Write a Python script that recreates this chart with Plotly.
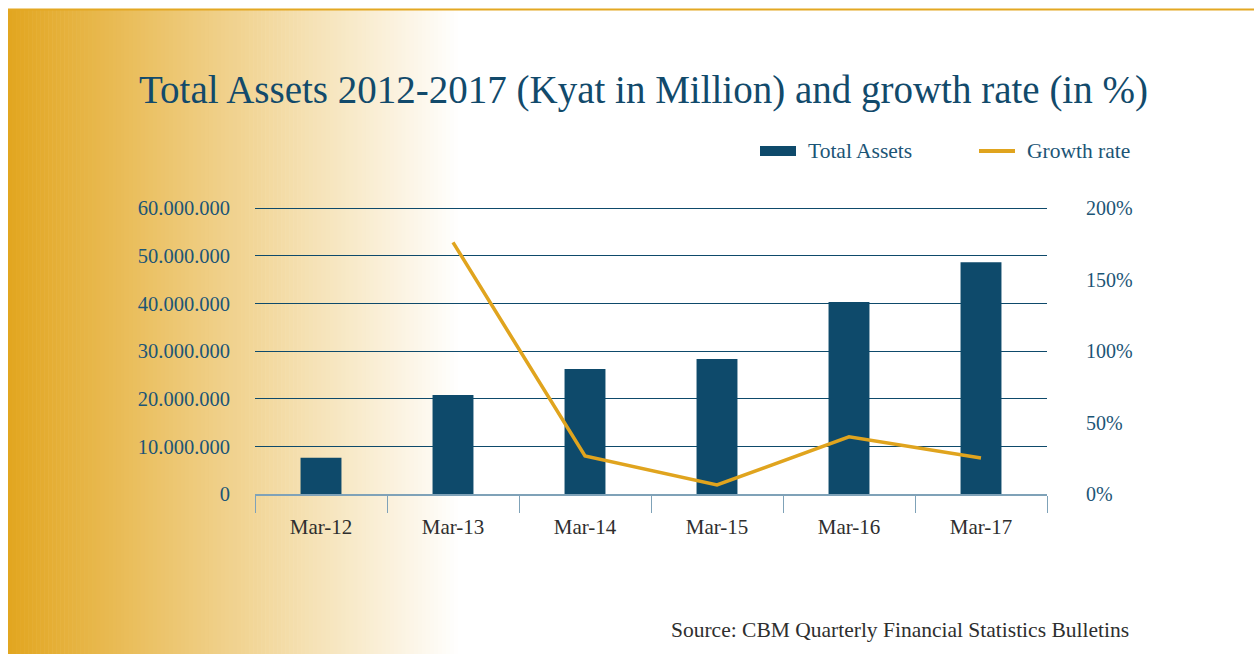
import plotly.graph_objects as go

# Data (Kyat in Million, growth as fraction)
periods = ["Mar-12", "Mar-13", "Mar-14", "Mar-15", "Mar-16", "Mar-17"]
total_assets = [7600000, 20750000, 26200000, 28300000, 40300000, 48600000]
growth_rate = [None, 1.76, 0.266, 0.063, 0.40, 0.252]

left_ticks = [0, 10000000, 20000000, 30000000, 40000000, 50000000, 60000000]
left_tick_text = ["0", "10.000.000", "20.000.000", "30.000.000", "40.000.000", "50.000.000", "60.000.000"]
right_ticks = [0, 0.5, 1.0, 1.5, 2.0]
right_tick_text = ["0%", "50%", "100%", "150%", "200%"]

NAVY = "#0E4A6B"
GOLD = "#E0A41E"
LABEL = "#1C5576"
FONT = "Liberation Serif"

W, H = 1254, 654
# Plot area in pixels
PL, PR, PT, PB = 255, 1047, 206, 494
# Value at the top gridline sits slightly below the plot-area edge so it is drawn
TOP_PX = 208
scale = (PB - PT) / (PB - TOP_PX)

fig = go.Figure()
fig.add_trace(go.Bar(x=periods, y=total_assets, name="Total Assets",
                     marker=dict(color=NAVY, line=dict(width=0)), yaxis="y"))
fig.add_trace(go.Scatter(x=periods, y=growth_rate, name="Growth rate", mode="lines",
                         line=dict(color=GOLD, width=3.5), yaxis="y2",
                         connectgaps=False))


def px_x(x):
    return (x - PL) / (PR - PL)


def px_y(y):
    return (PB - y) / (PB - PT)


shapes = []
# Left-side gold-to-white background gradient built from thin vertical strips
x0, x1 = 8, 462
n = 113
c0 = (226, 166, 32)
for i in range(n):
    t = i / (n - 1)
    r = round(c0[0] + (255 - c0[0]) * t)
    g = round(c0[1] + (255 - c0[1]) * t)
    b = round(c0[2] + (255 - c0[2]) * t)
    sx0 = x0 + (x1 - x0) * i / n
    sx1 = x0 + (x1 - x0) * (i + 1) / n + 0.6
    shapes.append(dict(type="rect", xref="paper", yref="paper",
                       x0=px_x(sx0), x1=px_x(sx1), y0=px_y(654), y1=px_y(10),
                       fillcolor=f"rgb({r},{g},{b})", line=dict(width=0), layer="below"))

# Gold rule along the top edge
shapes.append(dict(type="line", xref="paper", yref="paper",
                   x0=px_x(8), x1=px_x(1254), y0=px_y(9.5), y1=px_y(9.5),
                   line=dict(color="#E3A823", width=2), layer="above"))

# Legend swatches
shapes.append(dict(type="rect", xref="paper", yref="paper",
                   x0=px_x(760), x1=px_x(796), y0=px_y(156), y1=px_y(146),
                   fillcolor=NAVY, line=dict(width=0)))
shapes.append(dict(type="line", xref="paper", yref="paper",
                   x0=px_x(979), x1=px_x(1015), y0=px_y(151), y1=px_y(151),
                   line=dict(color=GOLD, width=4)))

annotations = [
    dict(text="Total Assets 2012-2017 (Kyat in Million) and growth rate (in %)",
         xref="paper", yref="paper", x=px_x(137), y=px_y(90), xanchor="left", yanchor="middle",
         showarrow=False, font=dict(family=FONT, size=39, color="#124A6B")),
    dict(text="Total Assets", xref="paper", yref="paper", x=px_x(806), y=px_y(151),
         xanchor="left", yanchor="middle", showarrow=False,
         font=dict(family=FONT, size=21.5, color=LABEL)),
    dict(text="Growth rate", xref="paper", yref="paper", x=px_x(1025), y=px_y(151),
         xanchor="left", yanchor="middle", showarrow=False,
         font=dict(family=FONT, size=21.5, color=LABEL)),
    dict(text="Source: CBM Quarterly Financial Statistics Bulletins", xref="paper", yref="paper",
         x=px_x(1131), y=px_y(630), xanchor="right", yanchor="middle", showarrow=False,
         font=dict(family=FONT, size=21.5, color="#2E2E2E")),
]

fig.update_layout(
    width=W, height=H,
    margin=dict(l=PL, r=W - PR, t=PT, b=H - PB, pad=0),
    paper_bgcolor="white", plot_bgcolor="rgba(0,0,0,0)",
    showlegend=False,
    bargap=0.69,
    shapes=shapes,
    annotations=annotations,
    xaxis=dict(type="category", showline=True, linecolor="#7FA2B8", linewidth=1.5,
               ticks="outside", tickson="boundaries", ticklen=17, tickcolor="#7FA2B8",
               tickwidth=1.2, showgrid=False, ticklabelstandoff=13,
               tickfont=dict(family=FONT, size=21, color="#2E2E2E")),
    yaxis=dict(range=[0, 60000000 * scale], tickvals=left_ticks, ticktext=left_tick_text,
               showgrid=True, gridcolor=NAVY, gridwidth=1, zeroline=False,
               showline=False, ticks="", ticklabelstandoff=24,
               tickfont=dict(family=FONT, size=20.5, color=LABEL)),
    yaxis2=dict(range=[0, 2 * scale], overlaying="y", side="right", tickvals=right_ticks,
                ticktext=right_tick_text, showgrid=False, zeroline=False,
                showline=False, ticks="", ticklabelstandoff=38,
                tickfont=dict(family=FONT, size=20, color=LABEL)),
)

fig.write_html("out.html")
